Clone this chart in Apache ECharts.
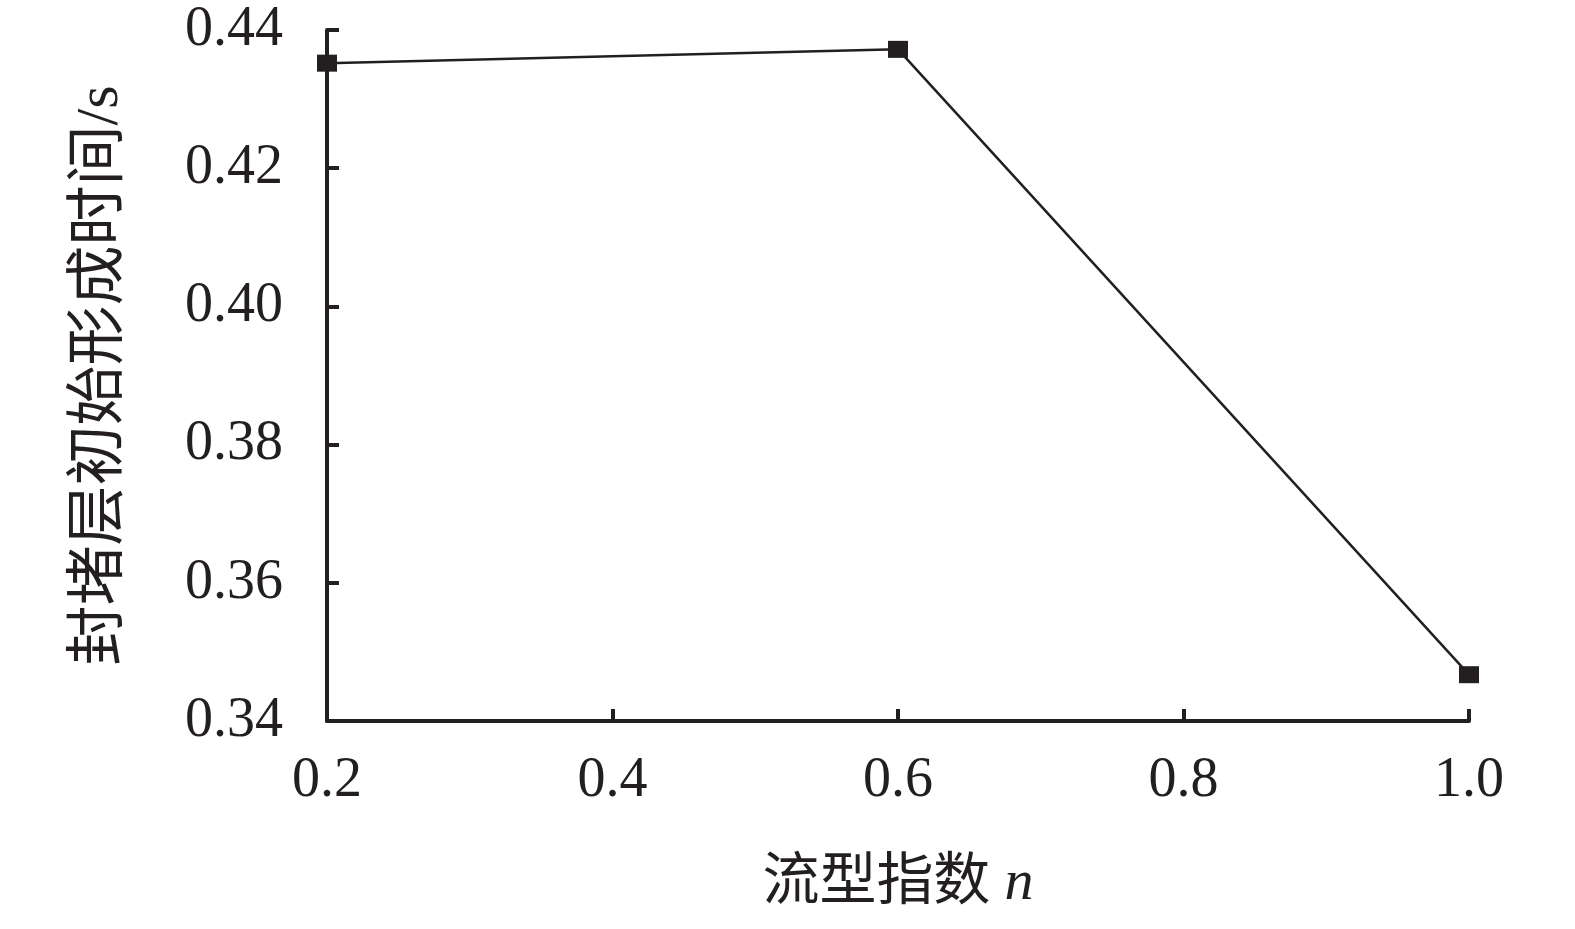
<!DOCTYPE html>
<html>
<head>
<meta charset="utf-8">
<script src="https://cdn.jsdelivr.net/npm/echarts@6/dist/echarts.min.js"></script>
<style>html,body{margin:0;padding:0;background:#fff;}#c{width:1575px;height:929px;}</style>
</head>
<body>
<div id="c"></div>
<script>
var xValues = [0.2, 0.6, 1.0];
var yValues = [0.4352, 0.4372, 0.3467];
var xTicks = [0.2, 0.4, 0.6, 0.8, 1.0];
var yTicks = [0.34, 0.36, 0.38, 0.40, 0.42, 0.44];
var xTitle = '流型指数 ';
var xTitleItalic = 'n';
var yTitle = '封堵层初始形成时间/s';

var ink = '#231f20';
var fam = '"Liberation Serif", "Noto Sans CJK SC", serif';
var chart = echarts.init(document.getElementById('c'), null, {renderer: 'canvas'});
chart.setOption({
  animation: false,
  backgroundColor: '#fff',
  grid: {left: 327, right: 106, top: 30, bottom: 208, containLabel: false},
  xAxis: {
    type: 'value',
    min: xTicks[0], max: xTicks[xTicks.length - 1], interval: 0.2,
    axisLine: {lineStyle: {color: ink, width: 4}},
    axisTick: {inside: true, length: 12, lineStyle: {color: ink, width: 4}},
    splitLine: {show: false},
    axisLabel: {color: ink, fontFamily: fam, fontSize: 56, margin: 32,
      formatter: function (v) { return v.toFixed(1); }},
    name: '{a|' + xTitle + '}{b|' + xTitleItalic + '}',
    nameLocation: 'middle',
    nameGap: 134,
    nameTextStyle: {
      verticalAlign: 'top',
      rich: {
        a: {fontFamily: fam, fontSize: 57, color: ink},
        b: {fontFamily: fam, fontSize: 58, fontStyle: 'italic', color: ink}
      }
    }
  },
  yAxis: {
    type: 'value',
    min: yTicks[0], max: yTicks[yTicks.length - 1], interval: 0.02,
    axisLine: {show: true, lineStyle: {color: ink, width: 4}},
    axisTick: {show: true, inside: true, length: 12, lineStyle: {color: ink, width: 4}},
    splitLine: {show: false},
    axisLabel: {color: ink, fontFamily: fam, fontSize: 56, margin: 44,
      formatter: function (v) { return v.toFixed(2); }},
    name: yTitle,
    nameLocation: 'middle',
    nameRotate: 90,
    nameGap: 196,
    nameTextStyle: {fontFamily: fam, fontSize: 60, color: ink}
  },
  series: [{
    type: 'line',
    data: xValues.map(function (x, i) { return [x, yValues[i]]; }),
    symbol: 'rect',
    symbolSize: [20, 17],
    itemStyle: {color: ink},
    lineStyle: {color: ink, width: 2.5},
    clip: false
  }]
});
</script>
</body>
</html>
